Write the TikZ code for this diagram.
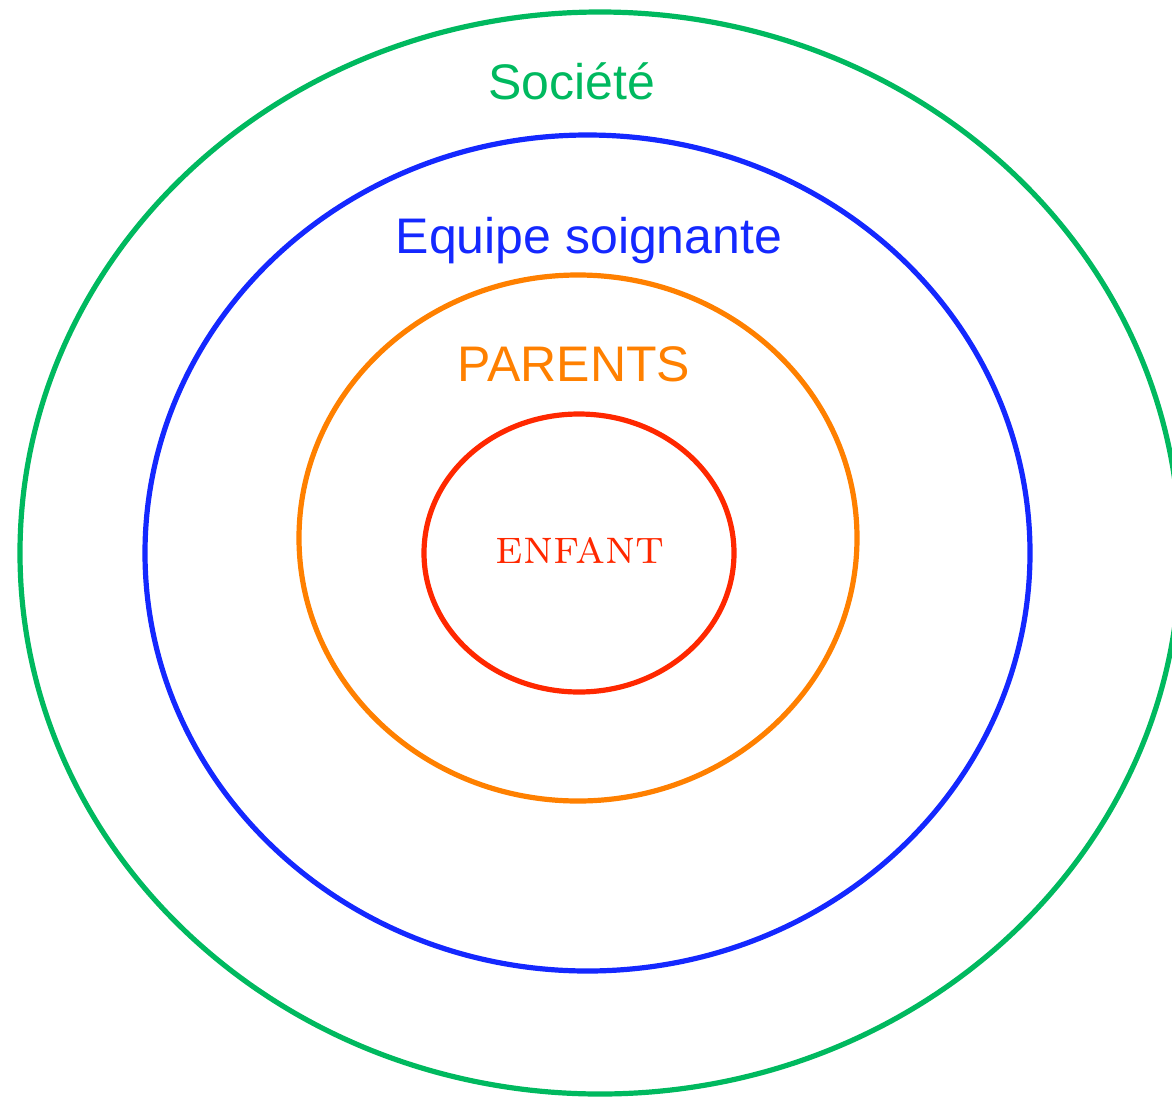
\documentclass[tikz,border=0pt]{standalone}
\usepackage{fontspec}
\setsansfont{Liberation Sans}
\definecolor{cgreen}{RGB}{0,185,95}
\definecolor{cblue}{RGB}{20,40,255}
\definecolor{corange}{RGB}{255,128,0}
\definecolor{cred}{RGB}{255,40,0}
\begin{document}
\begin{tikzpicture}[x=1pt,y=-1pt,
  ring/.style={line width=5.2pt},
  lab/.style={anchor=base,inner sep=0pt,font=\sffamily\fontsize{50}{58}\selectfont}]
\useasboundingbox (0,0) rectangle (1172,1098);
\draw[ring,cgreen] (600,553) ellipse [x radius=580,y radius=541];
\draw[ring,cblue] (587.5,553) ellipse [x radius=442.5,y radius=418];
\draw[ring,corange] (578,538) ellipse [x radius=279,y radius=263];
\draw[ring,cred] (579,553) ellipse [x radius=155,y radius=139];
\node[lab,text=cgreen] (soc) at (572,99) {Société};
\node[lab,text=cblue] (equ) at (589,253) {Equipe soignante};
\node[lab,text=corange] (par) at (574,381) {PARENTS};
\node[anchor=base,inner sep=0pt,text=cred,font=\fontsize{49}{56}\selectfont] (enf) at (580,563) {\textsc{enfant}};
\end{tikzpicture}
\end{document}
